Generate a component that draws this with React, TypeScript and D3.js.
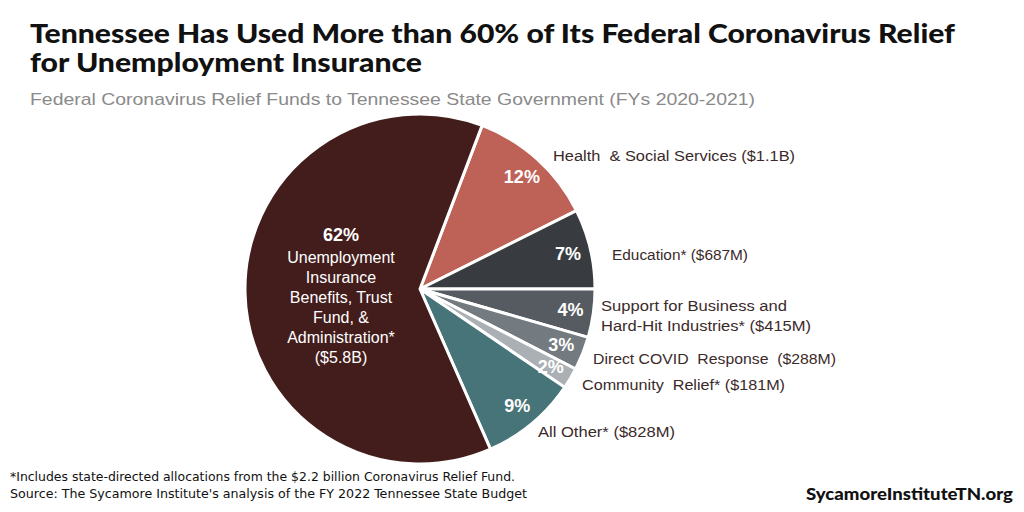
import React from "react";
import * as d3 from "d3";

const categories = [
  "Health & Social Services",
  "Education",
  "Support for Business and Hard-Hit Industries",
  "Direct COVID Response",
  "Community Relief",
  "All Other",
  "Unemployment Insurance",
];
const valuesBillions = [1.1, 0.687, 0.415, 0.288, 0.181, 0.828, 5.8];
const pctLabels = ["12%", "7%", "4%", "3%", "2%", "9%", "62%"];
const outerLabels = [
  ["Health  & Social Services ($1.1B)"],
  ["Education* ($687M)"],
  ["Support for Business and", "Hard-Hit Industries* ($415M)"],
  ["Direct COVID  Response  ($288M)"],
  ["Community  Relief* ($181M)"],
  ["All Other* ($828M)"],
  [],
];
const innerLines = ["Unemployment", "Insurance", "Benefits, Trust", "Fund, &", "Administration*", "($5.8B)"];

const colors = ["#be6157", "#383c40", "#555b61", "#737b80", "#aab0b3", "#467479", "#431d1c"];
// label anchor positions and widths (text layout only)
const outerPos = [
  [553, 161],
  [612, 260],
  [601, 311],
  [593, 364],
  [582, 390],
  [538, 437],
];
const outerWidths = [[242], [136], [186, 210], [243], [203], [137]];

export default function App() {
  const W = 1024, H = 512;
  const cx = 420, cy = 289, r = 175;
  const start = (20.8 * Math.PI) / 180;
  const pie = d3.pie<number>().sort(null).startAngle(start).endAngle(start + 2 * Math.PI);
  const arcs = pie(valuesBillions);
  const arc = d3.arc<d3.PieArcDatum<number>>().innerRadius(0).outerRadius(r);
  const labelArc = d3.arc<d3.PieArcDatum<number>>().innerRadius(152).outerRadius(152);
  const font = "'Liberation Sans', Arimo, Arial, sans-serif";
  const narrow = "'Liberation Sans Narrow', 'DejaVu Sans Condensed', 'Liberation Sans', sans-serif";
  return (
    <svg width={W} height={H} style={{ position: "absolute", left: 0, top: 0, background: "#fff" }}>
      <rect width={W} height={H} fill="#fff" />
      <text x={30} y={43} fontFamily="Lato, sans-serif" fontWeight={900} fontSize={26} fill="#111" textLength={925} lengthAdjust="spacingAndGlyphs">
        Tennessee Has Used More than 60% of Its Federal Coronavirus Relief
      </text>
      <text x={30} y={72} fontFamily="Lato, sans-serif" fontWeight={900} fontSize={26} fill="#111" textLength={392} lengthAdjust="spacingAndGlyphs">
        for Unemployment Insurance
      </text>
      <text x={30} y={105} fontFamily={font} fontSize={17} fill="#8a8a8a" textLength={725} lengthAdjust="spacingAndGlyphs">
        Federal Coronavirus  Relief Funds to Tennessee State  Government  (FYs 2020-2021)
      </text>
      <g transform={`translate(${cx},${cy})`}>
        {arcs.map((a, i) => (
          <path key={categories[i]} d={arc(a) || ""} fill={colors[i]} stroke="#fff" strokeWidth={3} strokeLinejoin="round" />
        ))}
        {arcs.slice(0, 6).map((a, i) => {
          const [x, y] = labelArc.centroid(a);
          return (
            <text key={"p" + i} x={x} y={y} dy="0.35em" textAnchor="middle" fontFamily={font} fontWeight={700} fontSize={18} fill="#fff">
              {pctLabels[i]}
            </text>
          );
        })}
      </g>
      <text x={341} y={241} textAnchor="middle" fontFamily={font} fontWeight={700} fontSize={18} fill="#fff">
        {pctLabels[6]}
      </text>
      {innerLines.map((t, i) => (
        <text key={t} x={341} y={263 + i * 20} textAnchor="middle" fontFamily={font} fontSize={16} fill="#fff">
          {t}
        </text>
      ))}
      {outerLabels.slice(0, 6).map((lines, i) =>
        lines.map((t, j) => (
          <text key={i + "-" + j} x={outerPos[i][0]} y={outerPos[i][1] + j * 20} fontFamily={font} fontSize={15.5} fill="#3b2a2a" textLength={outerWidths[i][j]} lengthAdjust="spacingAndGlyphs" style={{ whiteSpace: "pre" }}>
            {t}
          </text>
        ))
      )}
      <text x={10} y={481} fontFamily={narrow} fontSize={13} fill="#111" textLength={505} lengthAdjust="spacingAndGlyphs">
        *Includes state-directed allocations from the $2.2 billion Coronavirus Relief Fund.
      </text>
      <text x={10} y={498} fontFamily={narrow} fontSize={13} fill="#111" textLength={517} lengthAdjust="spacingAndGlyphs">
        Source: The Sycamore Institute's analysis of the FY 2022 Tennessee State Budget
      </text>
      <text x={806} y={500} fontFamily="Lato, sans-serif" fontWeight={900} fontSize={17} fill="#111" textLength={207} lengthAdjust="spacingAndGlyphs">
        SycamoreInstituteTN.org
      </text>
    </svg>
  );
}
